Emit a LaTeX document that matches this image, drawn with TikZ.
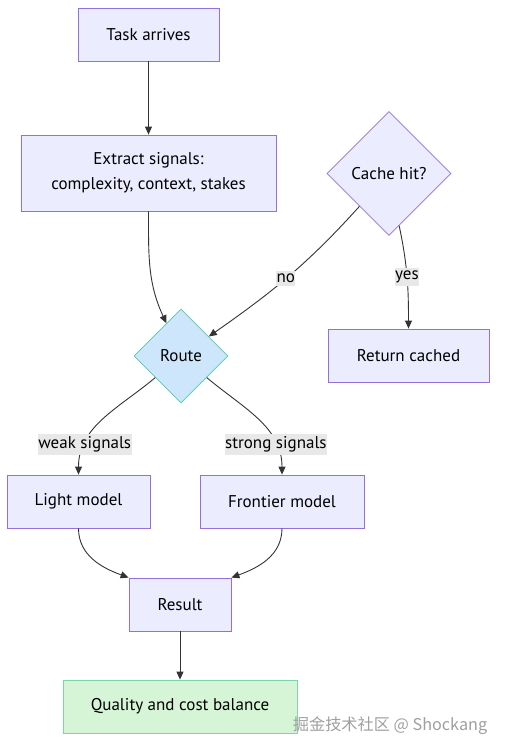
\documentclass[tikz,border=0pt]{standalone}
\usepackage{fontspec}
\setmainfont{PT Sans}
\newfontfamily\cjkfont{Noto Sans CJK SC}
\usetikzlibrary{shapes.geometric,arrows.meta}
\definecolor{boxfill}{HTML}{ECECFF}
\definecolor{boxline}{HTML}{9370DB}
\definecolor{routefill}{HTML}{CDE6FB}
\definecolor{routeline}{HTML}{52CFA8}
\definecolor{goodfill}{HTML}{D6F5D6}
\definecolor{goodline}{HTML}{7DD6A8}
\definecolor{linkgray}{HTML}{333333}
\definecolor{lblfill}{HTML}{E8E8E8}

\begin{document}
\begin{tikzpicture}[x=1pt,y=1pt]
	\path [use as bounding box] (0,0) rectangle (505,753);
	\tikzstyle{every node} = [font=\fontsize{17}{25}\selectfont, text=black]
	\tikzstyle{proc} = [rectangle, draw=boxline, fill=boxfill, line width=0.8pt, inner sep=0pt, minimum height=53, align=center]
	\tikzstyle{decide} = [diamond, aspect=1, draw=boxline, fill=boxfill, line width=0.6pt, inner sep=0pt]
	\tikzstyle{link} = [draw=linkgray, line width=0.9pt, -{Triangle[length=8pt,width=7pt]}]
	\tikzstyle{lbl} = [fill=lblfill, inner xsep=0.5pt, inner ysep=3pt]
	% boxes
	\node[proc, minimum width=141] (task) at (148.5,718.5) {Task arrives};
	\node[proc, minimum width=255, minimum height=76] (extract) at (148.5,580) {Extract signals:\\complexity, context, stakes};
	\node[decide, minimum width=124, minimum height=124] (cache) at (389,579.5) {Cache hit?};
	\node[proc, minimum width=161] (cached) at (408.5,397.5) {Return cached};
	\node[decide, draw=routeline, fill=routefill, minimum width=94, minimum height=94] (route) at (181,397) {Route};
	\node[proc, minimum width=143] (light) at (78.5,251.5) {Light model};
	\node[proc, minimum width=164] (frontier) at (282,251.5) {Frontier model};
	\node[proc, minimum width=102] (result) at (180,148.5) {Result};
	\node[proc, draw=goodline, fill=goodfill, minimum width=234] (quality) at (180,46.5) {Quality and cost balance};
	% links
	\draw[link] (task) -- (extract);
	\draw[link] (extract.south) to[out=270, in=115] (route.114);
	\draw[link] (cache.228) to[out=228, in=35] node[lbl, pos=0.52] {no} (route.35);
	\draw[link] (cache.281) to[out=282, in=90] node[lbl, pos=0.5] {yes} (cached.north);
	\draw[link] (route.220) to[out=220, in=90] node[lbl, pos=0.76] {weak signals} (light.north);
	\draw[link] (route.320) to[out=320, in=90] node[lbl, pos=0.76] {strong signals} (frontier.north);
	\draw[link] (light.south) to[out=270, in=160] (result.north west);
	\draw[link] (frontier.south) to[out=270, in=20] (result.north east);
	\draw[link] (result) -- (quality);
	% watermark
	\node[font=\cjkfont\fontsize{16.2}{18}\selectfont, text=gray!75] (mark) at (390,27) {掘金技术社区 @ Shockang};
\end{tikzpicture}
\end{document}
